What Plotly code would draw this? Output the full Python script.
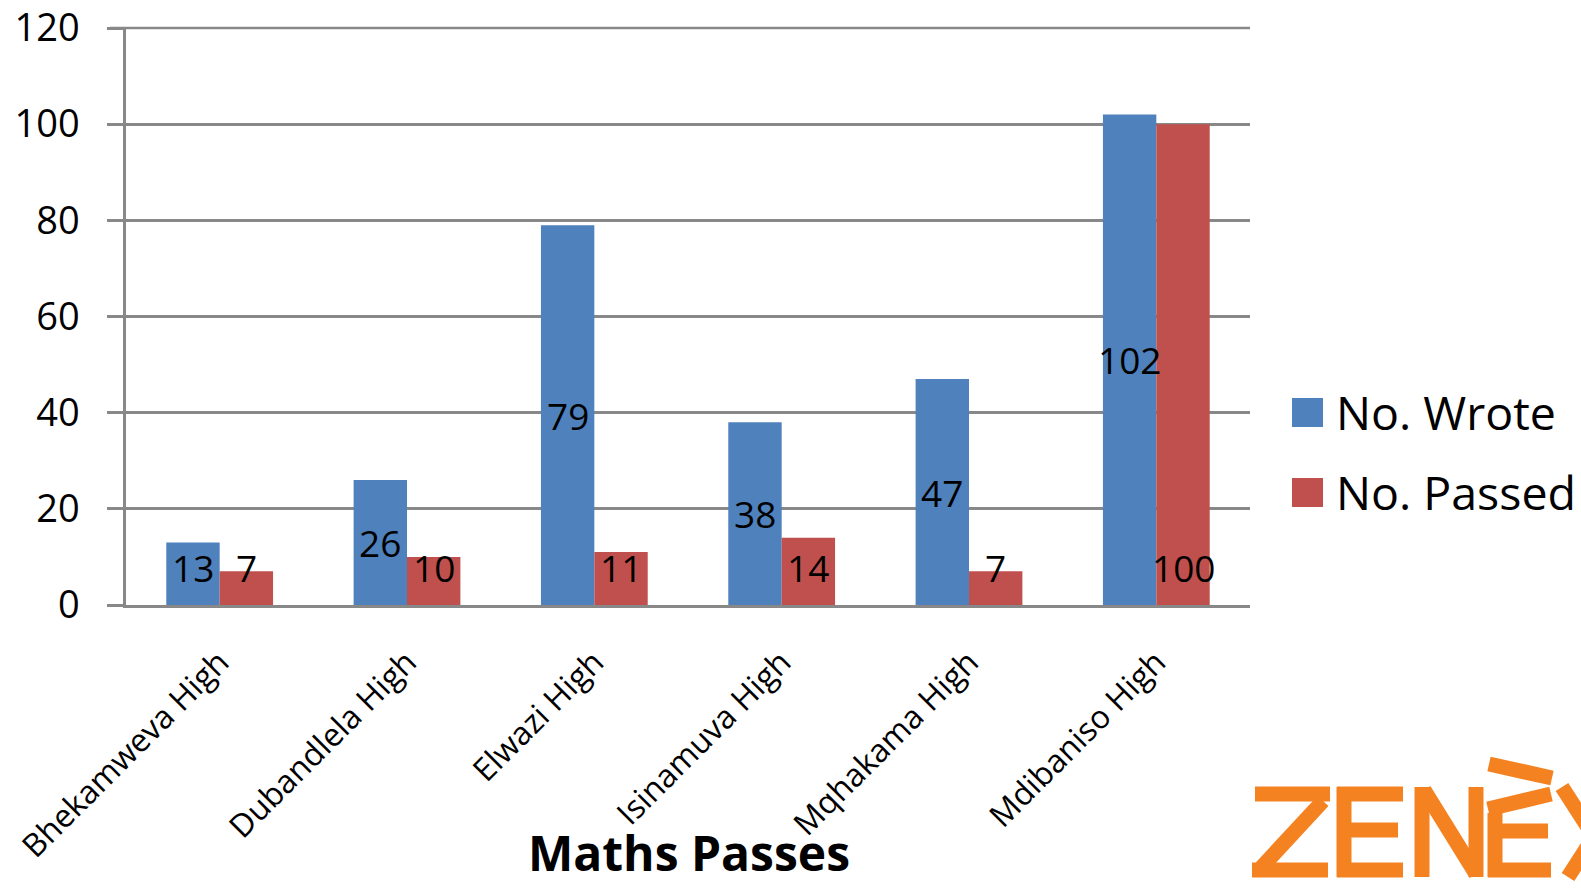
import plotly.graph_objects as go

# School results
schools = ["Bhekamweva High", "Dubandlela High", "Elwazi High",
           "Isinamuva High", "Mqhakama High", "Mdibaniso High"]
wrote = [13, 26, 79, 38, 47, 102]
passed = [7, 10, 11, 14, 7, 100]
series_names = ["No. Wrote", "No. Passed"]
series_colors = ["#4F81BD", "#C0504D"]
y_max = 120

W, H = 1581, 888
L, R, T, B = 126, 331, 28, 283
PW, PH = W - L - R, H - T - B
GRID = "#888888"
FONT = "Open Sans"
BARGAP = 0.43
LABEL_FLOOR = 7.8  # lowest label centre, in axis units


def px(x):
    return (x - L) / PW


def py(y):
    return (H - B - y) / PH


fig = go.Figure()
for name, vals, col in zip(series_names, [wrote, passed], series_colors):
    fig.add_trace(go.Bar(x=schools, y=vals, name=name, marker_color=col,
                         marker_line_width=0, showlegend=False))

# value labels: first series centred in the bar, second near the base
off = (1 - BARGAP) / 4
annotations = []
for i, (w, p) in enumerate(zip(wrote, passed)):
    annotations.append(dict(x=i - off, y=max(w / 2, LABEL_FLOOR), text=str(w),
                            xref="x", yref="y", showarrow=False,
                            font=dict(family=FONT, size=37, color="black")))
    annotations.append(dict(x=i + off, y=LABEL_FLOOR, text=str(p),
                            xref="x", yref="y", showarrow=False,
                            font=dict(family=FONT, size=37, color="black")))

shapes = []
# gridline along the top edge of the value range (y_max sits at paper y=1)
shapes.append(dict(type="line", xref="paper", yref="paper", x0=px(110), x1=1,
                   y0=1, y1=1, line=dict(color=GRID, width=2.5),
                   layer="below"))

# legend
for k, (name, col) in enumerate(zip(series_names, series_colors)):
    cy = 413 + 80 * k
    shapes.append(dict(type="rect", xref="paper", yref="paper",
                       x0=px(1292), x1=px(1323), y0=py(cy - 15), y1=py(cy + 14),
                       fillcolor=col, line_width=0))
    annotations.append(dict(x=px(1334), y=py(cy - 1), xref="paper", yref="paper",
                            text=name, showarrow=False, xanchor="left",
                            yanchor="middle",
                            font=dict(family=FONT, size=46.5, color="black")))

# chart title below the axis
annotations.append(dict(x=px(689), y=py(852), xref="paper", yref="paper",
                        text="<b>Maths Passes</b>", showarrow=False,
                        xanchor="center", yanchor="middle",
                        font=dict(family=FONT, size=48, color="black")))

# ZENEX logo strokes
ORANGE = "#F58220"
SW = 15
logo = [
    # Z
    (1255, 794, 1330, 794), (1323, 801, 1259, 870), (1252, 870, 1328, 870),
    # E
    (1344, 787, 1344, 877), (1337, 794, 1403, 794),
    (1337, 830, 1398, 830), (1337, 870, 1403, 870),
    # N
    (1422, 787, 1422, 877), (1424, 790, 1476, 874), (1476, 787, 1476, 877),
    # E with split top bar
    (1495, 813, 1495, 877), (1488, 831, 1548, 831), (1488, 870, 1551, 870),
    (1488, 809, 1551, 794), (1489, 764, 1552, 778),
    # X (cut at the edge)
    (1562, 787, 1620, 877), (1568, 877, 1626, 787),
]
for x0, y0, x1, y1 in logo:
    shapes.append(dict(type="line", xref="paper", yref="paper",
                       x0=px(x0), y0=py(y0), x1=px(x1), y1=py(y1),
                       line=dict(color=ORANGE, width=SW)))

fig.update_layout(
    width=W, height=H,
    margin=dict(l=L, r=R, t=T, b=B, pad=0, autoexpand=False),
    paper_bgcolor="white", plot_bgcolor="white",
    barmode="group", bargap=BARGAP, bargroupgap=0,
    showlegend=False,
    annotations=annotations, shapes=shapes,
    xaxis=dict(showline=True, linecolor=GRID, linewidth=2.5, ticks="",
               tickangle=-45, ticklabelstandoff=23, automargin=False,
               tickfont=dict(family=FONT, size=32, color="black"),
               showgrid=False),
    yaxis=dict(range=[0, y_max], dtick=20, showline=True, linecolor=GRID,
               linewidth=2.5, ticks="outside", ticklen=16, tickcolor=GRID,
               tickwidth=2.5, gridcolor=GRID, gridwidth=2.5, automargin=False,
               zeroline=False, ticklabelstandoff=20,
               tickfont=dict(family=FONT, size=38, color="black")),
)

fig.write_html("out.html")
